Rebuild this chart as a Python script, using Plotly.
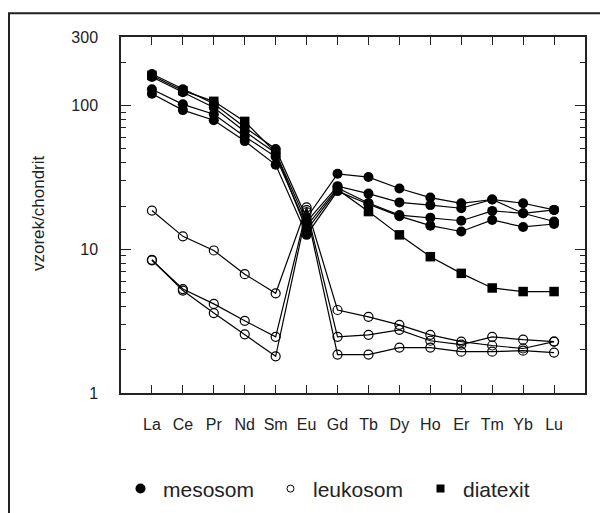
import plotly.graph_objects as go

# REE elements (categories)
elements = ["La", "Ce", "Pr", "Nd", "Sm", "Eu", "Gd", "Tb", "Dy", "Ho", "Er", "Tm", "Yb", "Lu"]

# mesosom samples (chondrite-normalised)
mesosom_1 = [166, 130, 103, 70.6, 49.9, 16.5, 33.5, 31.8, 26.5, 22.9, 20.9, 22.2, 20.9, 18.8]
mesosom_2 = [158, 124, 97, 66.0, 46.8, 15.5, 27.5, 24.4, 21.2, 20.3, 19.3, 22.2, 17.8, 15.6]
mesosom_3 = [130, 102, 87, 61.0, 44.0, 14.5, 26.7, 21.0, 17.3, 16.6, 15.8, 18.5, 17.8, 18.8]
mesosom_4 = [121, 93, 79, 56.6, 38.7, 12.6, 25.4, 20.6, 17.0, 14.6, 13.3, 16.0, 14.3, 15.0]

# leukosom samples
leukosom_1 = [18.6, 12.3, 9.81, 6.71, 4.94, 19.6, 3.78, 3.39, 2.98, 2.54, 2.28, 2.14, 2.04, 2.28]
leukosom_2 = [8.38, 5.29, 4.17, 3.18, 2.46, 18.7, 2.46, 2.54, 2.75, 2.31, 2.17, 2.46, 2.35, 2.28]
leukosom_3 = [8.45, 5.16, 3.60, 2.56, 1.80, 18.1, 1.85, 1.85, 2.07, 2.07, 1.94, 1.94, 1.97, 1.91]

# diatexit sample
diatexit_1 = [162, 127, 107, 77.6, 47.0, 13.6, 26.1, 18.3, 12.6, 8.88, 6.8, 5.38, 5.08, 5.08]

y_tick_vals = [1, 10, 100, 300]
y_tick_text = ["1", "10", "100", "300"]
y_minor_vals = [2, 3, 4, 5, 6, 7, 8, 9, 20, 30, 40, 50, 60, 70, 80, 90, 200]

FONT = "Liberation Sans, Arial, sans-serif"
LINE = dict(color="black", width=1.2)

fig = go.Figure()

for ys in [leukosom_1, leukosom_2, leukosom_3]:
    fig.add_trace(go.Scatter(
        x=elements, y=ys, mode="lines+markers", line=LINE, showlegend=False,
        marker=dict(symbol="circle-open", size=9, color="black", line=dict(width=1.2, color="black")),
    ))

fig.add_trace(go.Scatter(
    x=elements, y=diatexit_1, mode="lines+markers", line=LINE, showlegend=False,
    marker=dict(symbol="square", size=9.5, color="black"),
))

for ys in [mesosom_4, mesosom_3, mesosom_2, mesosom_1]:
    fig.add_trace(go.Scatter(
        x=elements, y=ys, mode="lines+markers", line=LINE, showlegend=False,
        marker=dict(symbol="circle", size=10, color="black"),
    ))

# legend-only entries
fig.add_trace(go.Scatter(x=[None], y=[None], mode="markers", name="mesosom",
                         marker=dict(symbol="circle", size=10, color="black")))
fig.add_trace(go.Scatter(x=[None], y=[None], mode="markers", name="leukosom",
                         marker=dict(symbol="circle-open", size=7, color="black",
                                     line=dict(width=1, color="black"))))
fig.add_trace(go.Scatter(x=[None], y=[None], mode="markers", name="diatexit",
                         marker=dict(symbol="square", size=8, color="black")))

# page-pixel geometry of the plot area (page body has an 8px margin)
OFF = 8
L, R, T, B = 121, 585, 37, 397
W, H = 608, 513
pw, ph = R - L, B - T


def px(xp):
    return (xp - L) / pw


def py(yp):
    return (B - yp) / ph


fig.update_layout(
    width=W, height=H,
    margin=dict(l=L - OFF, r=W - R + OFF, t=T - OFF, b=H - B + OFF),
    paper_bgcolor="white", plot_bgcolor="white",
    font=dict(family=FONT, size=16, color="#222"),
    showlegend=True,
    legend=dict(orientation="h", x=px(118), xanchor="left", y=py(494), yanchor="middle",
                font=dict(size=21, family=FONT, color="#222"),
                entrywidth=100, entrywidthmode="pixels", itemwidth=35,
                bgcolor="rgba(0,0,0,0)", traceorder="normal"),
    xaxis=dict(
        type="category", range=[-1, 14], showgrid=False, zeroline=False,
        showline=True, linecolor="#222", linewidth=1.5, mirror="ticks",
        ticks="inside", ticklen=8, tickwidth=1.2, tickcolor="#222",
        tickfont=dict(size=16, family=FONT, color="#222"),
        ticklabelstandoff=16,
    ),
    yaxis=dict(
        type="log", range=[0, 2.4771], showgrid=False, zeroline=False,
        showline=True, linecolor="#222", linewidth=1.5, mirror="ticks",
        ticks="inside", ticklen=10, tickwidth=1.2, tickcolor="#222",
        tickmode="array", tickvals=y_tick_vals, ticktext=y_tick_text,
        tickfont=dict(size=16, family=FONT, color="#222"),
        ticklabelstandoff=18,
        minor=dict(tickmode="array", tickvals=y_minor_vals, ticks="inside",
                   ticklen=5, tickwidth=1, tickcolor="#222", showgrid=False),
    ),
    annotations=[dict(
        text="vzorek/chondrit", xref="paper", yref="paper", x=px(38), y=py(215),
        showarrow=False, textangle=-90, font=dict(size=17, family=FONT, color="#222"),
        xanchor="center", yanchor="middle",
    )],
    shapes=[dict(type="rect", xref="paper", yref="paper",
                 x0=px(9), x1=px(605), y0=py(530), y1=py(13),
                 line=dict(color="#222", width=2), fillcolor="rgba(0,0,0,0)", layer="below")],
)

fig.write_html("out.html")
